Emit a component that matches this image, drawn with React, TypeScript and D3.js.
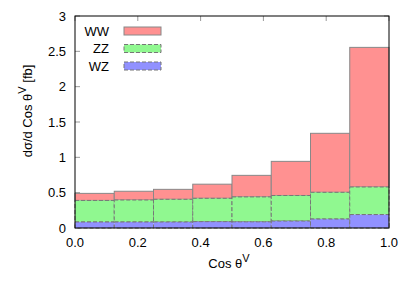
import * as d3 from "d3";

// bin edges of cos theta^V
const binStarts = [0, 0.125, 0.25, 0.375, 0.5, 0.625, 0.75, 0.875];
const binWidth = 0.125;
// stacked tops (cumulative)
const wzTop = [0.085, 0.085, 0.085, 0.09, 0.088, 0.099, 0.127, 0.19];
const zzTop = [0.39, 0.396, 0.406, 0.42, 0.44, 0.46, 0.505, 0.58];
const wwTop = [0.49, 0.52, 0.547, 0.62, 0.745, 0.943, 1.34, 2.556];

const xTicks = [0, 0.2, 0.4, 0.6, 0.8, 1.0];
const yTicks = [0, 0.5, 1, 1.5, 2, 2.5, 3];

const legend = [
  { name: "WW", fill: "#ff9191", stroke: "#888", dash: "" },
  { name: "ZZ", fill: "#90f890", stroke: "#777", dash: "4,2" },
  { name: "WZ", fill: "#9191ff", stroke: "#777", dash: "4,2" },
];

const W = 409, H = 286;
const m = { left: 75, right: 20, top: 16, bottom: 58 };
const font = "Liberation Sans, Arial, sans-serif";

export default function App() {
  const x = d3.scaleLinear().domain([0, 1]).range([m.left, W - m.right]);
  const y = d3.scaleLinear().domain([0, 3]).range([H - m.bottom, m.top]);

  const layers = [
    { lo: zzTop, hi: wwTop, ...legend[0] },
    { lo: wzTop, hi: zzTop, ...legend[1] },
    { lo: binStarts.map(() => 0), hi: wzTop, ...legend[2] },
  ];

  const tickLen = 5;

  return (
    <svg width={W} height={H} style={{ position: "absolute", left: 0, top: 0 }} fontFamily={font}>
      <rect width={W} height={H} fill="white" />
      {/* ticks */}
      {xTicks.map(t => (
        <g key={"xt" + t}>
          <line x1={x(t)} x2={x(t)} y1={y(0)} y2={y(0) - tickLen} stroke="#999" />
          <line x1={x(t)} x2={x(t)} y1={y(3)} y2={y(3) + tickLen} stroke="#999" />
          <text x={x(t)} y={y(0) + 18.5} textAnchor="middle" fontSize={13} fill="#000">
            {t.toFixed(1)}
          </text>
        </g>
      ))}
      {yTicks.map(t => (
        <g key={"yt" + t}>
          <line x1={x(0)} x2={x(0) + tickLen} y1={y(t)} y2={y(t)} stroke="#999" />
          <line x1={x(1)} x2={x(1) - tickLen} y1={y(t)} y2={y(t)} stroke="#999" />
          <text x={x(0) - 9} y={y(t) + 4.5} textAnchor="end" fontSize={13} fill="#000">
            {t}
          </text>
        </g>
      ))}
      {/* stacked bars */}
      {layers.map(l =>
        binStarts.map((b, i) => (
          <rect
            key={l.name + i}
            x={x(b)}
            y={y(l.hi[i])}
            width={x(b + binWidth) - x(b)}
            height={y(l.lo[i]) - y(l.hi[i])}
            fill={l.fill}
            stroke={l.stroke}
            strokeWidth={1}
            strokeDasharray={l.dash}
          />
        ))
      )}
      {/* border */}
      <rect x={x(0)} y={y(3)} width={x(1) - x(0)} height={y(0) - y(3)} fill="none" stroke="#000" />
      {/* legend */}
      {legend.map((l, i) => (
        <g key={"lg" + l.name}>
          <text x={109} y={35.5 + i * 17.5} textAnchor="end" fontSize={13}>{l.name}</text>
          <rect x={124} y={27 + i * 17.5} width={37} height={8} fill={l.fill} stroke={l.stroke} strokeDasharray={l.dash} />
        </g>
      ))}
      {/* axis titles */}
      <text x={229} y={268} textAnchor="middle" fontSize={13}>
        Cos θ<tspan dy={-6} fontSize={11}>V</tspan>
      </text>
      <text transform={`translate(32, 111) rotate(-90)`} textAnchor="middle" fontSize={13}>
        dσ/d Cos θ<tspan dy={-6} fontSize={11}>V</tspan><tspan dy={6}> [fb]</tspan>
      </text>
    </svg>
  );
}
